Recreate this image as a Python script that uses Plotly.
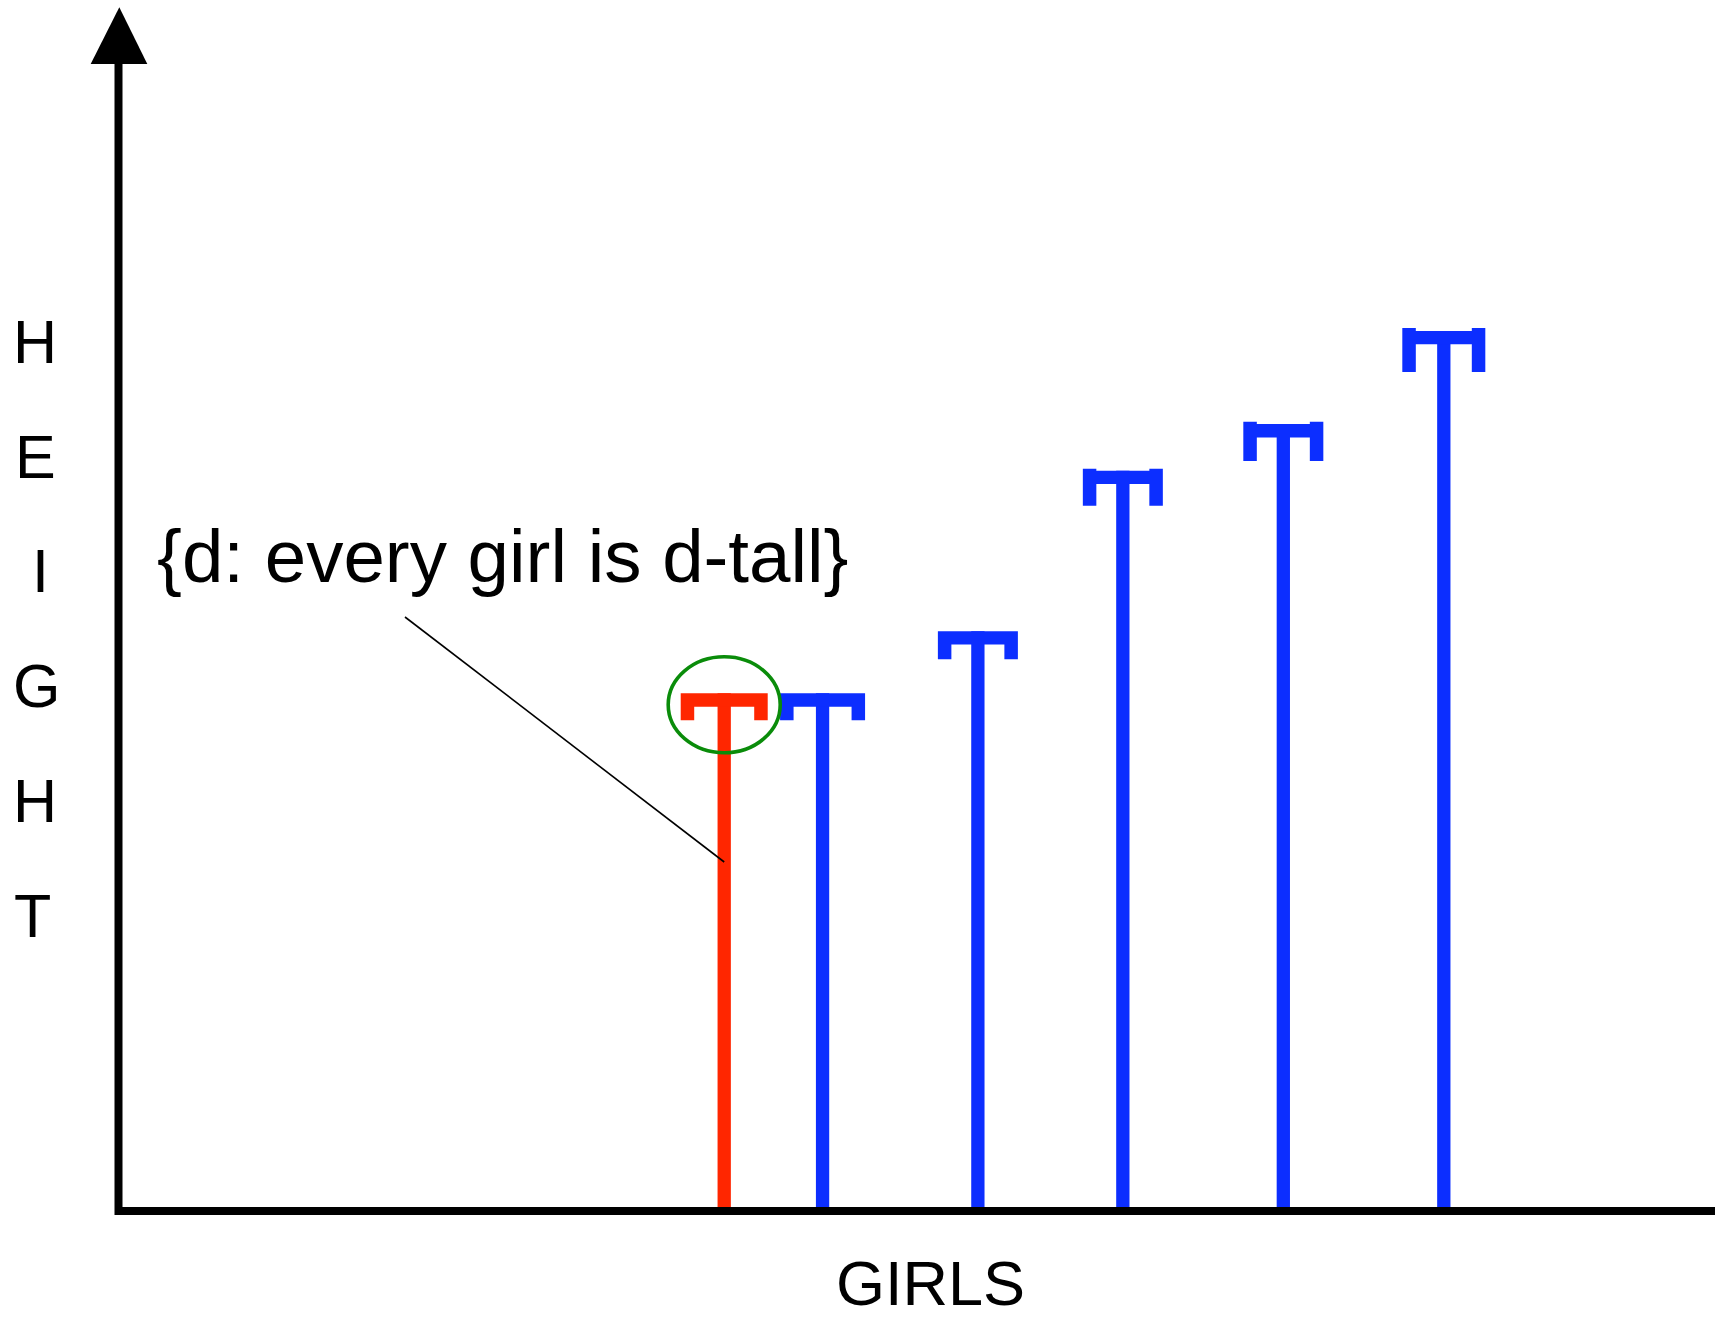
import plotly.graph_objects as go

# ---------------- data ----------------
girls = ["girl 1", "girl 2", "girl 3", "girl 4", "girl 5", "girl 6"]
girl_x = [117, 136, 166, 194, 225, 256]          # position of each girl along the GIRLS axis
heights = [100, 100, 112, 143, 152, 170]          # height of each girl
highlighted = [True, False, False, False, False, False]
axis_letters = ["H", "E", "I", "G", "H", "T"]
x_title = "GIRLS"
set_label = "{d: every girl is d-tall}"

# ---------------- style / layout ----------------
W, H = 1718, 1323
S = 5.177            # pixels per data unit (same on both axes)
X0_PX = 118.5        # pixel column of the vertical axis
Y0_PX = 1211.0       # pixel row of the horizontal axis

def ux(p):
    return (p - X0_PX) / S

def uy(p):
    return (Y0_PX - p) / S

def dl(p):
    return p / S

RED = "#FF2600"
BLUE = "#0C2EFF"
GREEN = "#0A8C0A"
FONT = "Liberation Sans, Arial, Helvetica, sans-serif"

cap_width_px = [87, 85, 80, 80, 80, 83]
cap_leg_px = [27, 27, 28, 35, 37, 41]
cap_over_px = [0, 0, 0, 2, 2.3, 3]
CAP_T = 13.4
LEG_W = 13.5
STEM_W = 13.3

colors = [RED if h else BLUE for h in highlighted]

fig = go.Figure()
fig.add_trace(go.Bar(
    x=girl_x, y=heights, width=dl(STEM_W), base=0,
    marker=dict(color=colors, line=dict(width=0)),
    hoverinfo="skip", showlegend=False,
))

shapes = []
# T-shaped caps on each stem
for xi, hi, c, cw, leg, ov in zip(girl_x, heights, colors, cap_width_px, cap_leg_px, cap_over_px):
    L = xi - dl(cw) / 2
    R = xi + dl(cw) / 2
    lw = dl(LEG_W)
    t = dl(CAP_T)
    d = dl(leg)
    o = dl(ov)
    pts = [
        (L, hi + o), (L + lw, hi + o), (L + lw, hi), (R - lw, hi), (R - lw, hi + o), (R, hi + o),
        (R, hi - d), (R - lw, hi - d), (R - lw, hi - t), (L + lw, hi - t), (L + lw, hi - d), (L, hi - d),
    ]
    path = "M " + " L ".join(f"{px:.4f},{py:.4f}" for px, py in pts) + " Z"
    shapes.append(dict(type="path", xref="x", yref="y", path=path,
                       fillcolor=c, line=dict(width=0), layer="above"))

# axes
shapes.append(dict(type="line", xref="x", yref="y", x0=ux(115), x1=ux(1715), y0=0, y1=0,
                   line=dict(color="black", width=8)))
shapes.append(dict(type="line", xref="x", yref="y", x0=0, x1=0, y0=uy(1215), y1=uy(62),
                   line=dict(color="black", width=8)))
# arrow head
arrow = [(ux(119.3), uy(7.3)), (ux(147.3), uy(64)), (ux(90.7), uy(64))]
shapes.append(dict(type="path", xref="x", yref="y",
                   path="M " + " L ".join(f"{a:.4f},{b:.4f}" for a, b in arrow) + " Z",
                   fillcolor="black", line=dict(width=0)))

# highlight ellipse around the shortest girl's cap
hx = girl_x[0]
hh = heights[0]
shapes.append(dict(type="circle", xref="x", yref="y",
                   x0=hx - dl(56), x1=hx + dl(56), y0=hh - dl(59.5), y1=hh + dl(36.5),
                   line=dict(color=GREEN, width=3.6), fillcolor="rgba(0,0,0,0)"))
# leader line from the label to the red stem
shapes.append(dict(type="line", xref="x", yref="y",
                   x0=ux(405), y0=uy(617), x1=hx, y1=uy(862),
                   line=dict(color="black", width=1.6)))

annotations = []
letter_x_px = [35, 35, 40, 36, 35, 32]
letter_y_px = [342, 457, 571, 686, 801, 916]
for ch, xp, yp in zip(axis_letters, letter_x_px, letter_y_px):
    annotations.append(dict(x=ux(xp), y=uy(yp), xref="x", yref="y", text=ch, showarrow=False,
                            xanchor="center", yanchor="middle",
                            font=dict(family=FONT, size=61, color="black")))
annotations.append(dict(x=ux(930.5), y=uy(1283), xref="x", yref="y", text=x_title, showarrow=False,
                        xanchor="center", yanchor="middle",
                        font=dict(family=FONT, size=63, color="black")))
annotations.append(dict(x=ux(503), y=uy(556), xref="x", yref="y", text=set_label, showarrow=False,
                        xanchor="center", yanchor="middle",
                        font=dict(family=FONT, size=74.5, color="black")))

fig.update_layout(
    width=W, height=H,
    margin=dict(l=0, r=0, t=0, b=0, pad=0),
    paper_bgcolor="white", plot_bgcolor="white",
    xaxis=dict(range=[ux(0), ux(W)], visible=False, fixedrange=True),
    yaxis=dict(range=[uy(H), uy(0)], visible=False, fixedrange=True),
    shapes=shapes, annotations=annotations,
    showlegend=False,
)

fig.write_html("out.html", config={"displayModeBar": False},
               post_script="document.body.style.margin='0px';")
